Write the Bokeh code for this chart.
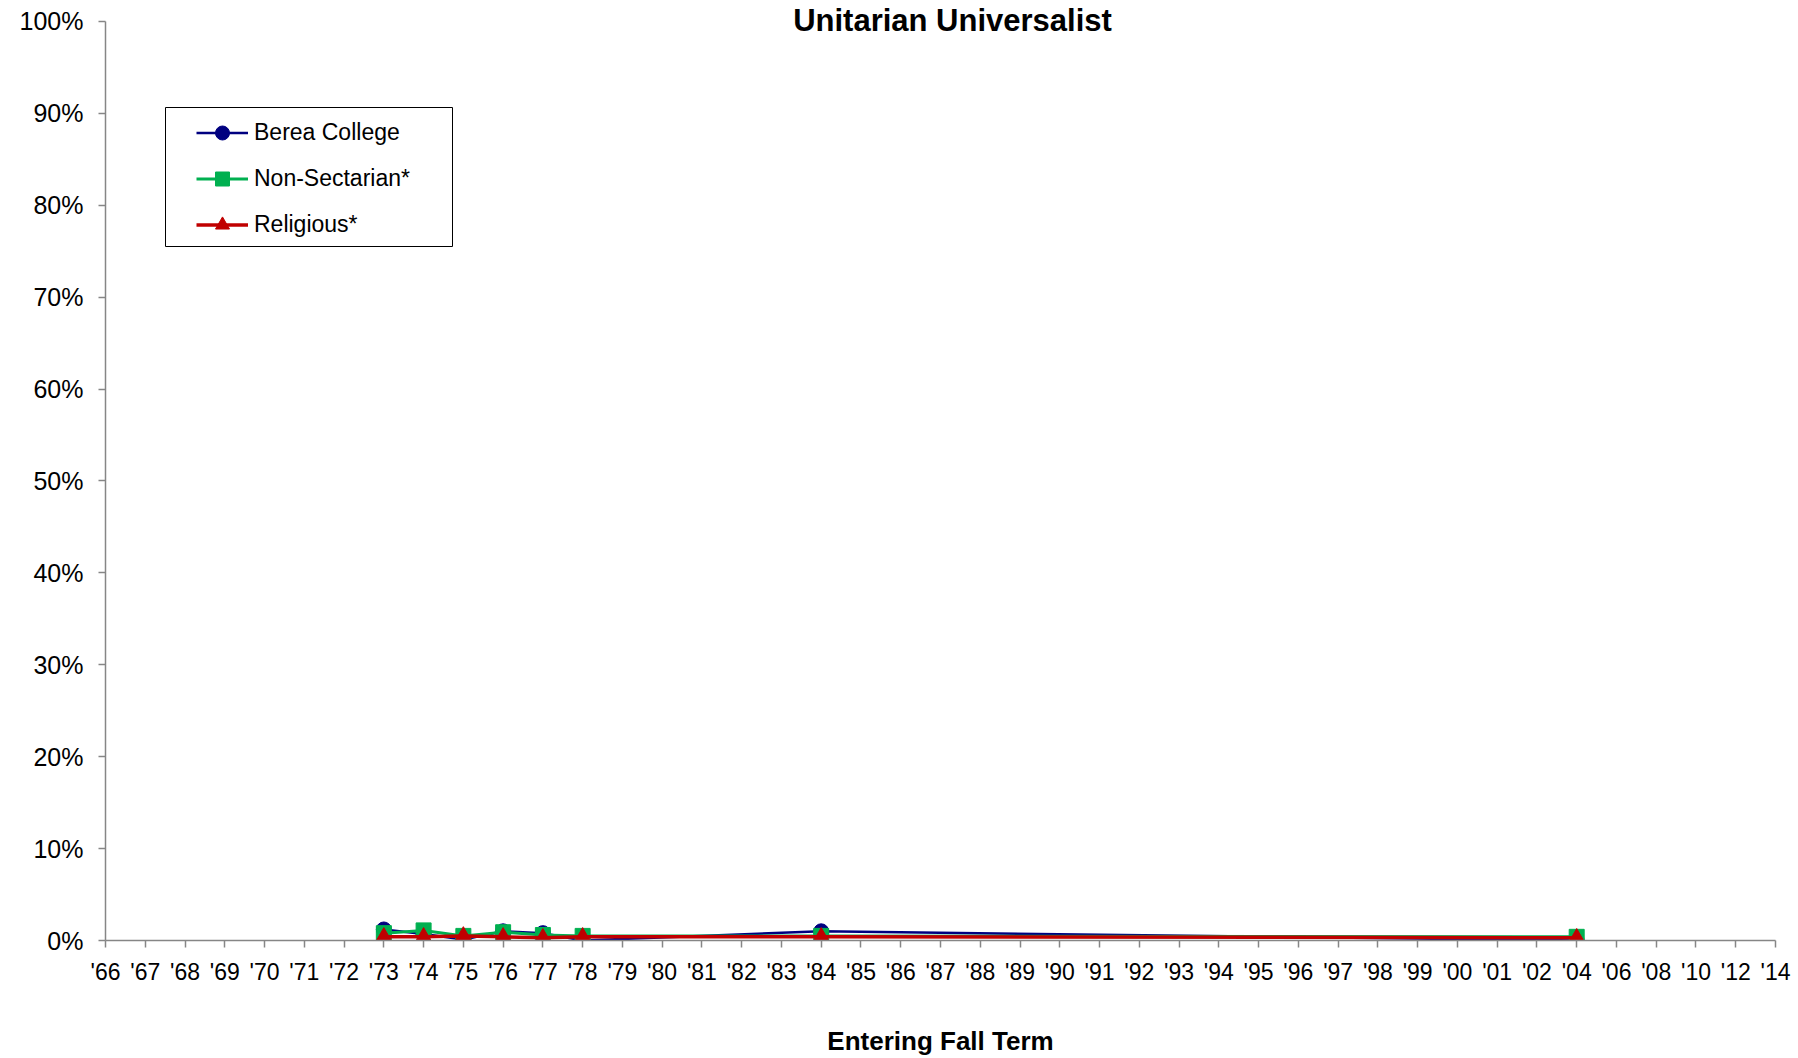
from bokeh.plotting import figure
from bokeh.models import (Range1d, FixedTicker, PrintfTickFormatter, Legend,
                          LegendItem, Label, BoxAnnotation)
from bokeh.embed import file_html
from bokeh.resources import INLINE

# ---- data ----
categories = ["'66", "'67", "'68", "'69", "'70", "'71", "'72", "'73", "'74", "'75",
              "'76", "'77", "'78", "'79", "'80", "'81", "'82", "'83", "'84", "'85",
              "'86", "'87", "'88", "'89", "'90", "'91", "'92", "'93", "'94", "'95",
              "'96", "'97", "'98", "'99", "'00", "'01", "'02", "'04", "'06", "'08",
              "'10", "'12", "'14"]
years = ["'73", "'74", "'75", "'76", "'77", "'78", "'84", "'04"]
berea = [1.2, 0.7, 0.1, 1.0, 0.8, 0.0, 1.0, 0.0]
non_sectarian = [0.8, 1.1, 0.5, 0.9, 0.6, 0.5, 0.5, 0.4]
religious = [0.4, 0.4, 0.5, 0.4, 0.3, 0.4, 0.4, 0.3]
y_ticks = [0, 10, 20, 30, 40, 50, 60, 70, 80, 90, 100]

FONT = "Liberation Sans"
x_idx = [categories.index(y) for y in years]

p = figure(width=1798, height=1058, output_backend="svg", toolbar_location=None,
           x_range=Range1d(0, len(categories) - 1), y_range=Range1d(0, 102.06),
           min_border_left=105, min_border_top=2, min_border_right=23,
           min_border_bottom=0)
p.outline_line_color = None
p.xgrid.visible = False
p.ygrid.visible = False
p.background_fill_color = "white"
p.border_fill_color = "white"

AX = "#868686"
xa = p.xaxis[0]
xa.ticker = FixedTicker(ticks=list(range(len(categories))))
xa.major_label_overrides = {i: c for i, c in enumerate(categories)}
xa.major_label_text_font = FONT
xa.major_label_text_font_size = "23px"
xa.major_label_text_color = "black"
xa.major_label_standoff = 11
xa.axis_line_color = AX
xa.axis_line_width = 1.5
xa.major_tick_line_color = AX
xa.major_tick_line_width = 1.5
xa.major_tick_out = 7
xa.major_tick_in = 0
xa.minor_tick_line_color = None
xa.axis_label = "Entering Fall Term"
xa.axis_label_text_font = FONT
xa.axis_label_text_font_style = "bold"
xa.axis_label_text_font_size = "26px"
xa.axis_label_text_color = "black"
xa.axis_label_standoff = 38

ya = p.yaxis[0]
ya.ticker = FixedTicker(ticks=y_ticks)
ya.formatter = PrintfTickFormatter(format="%d%%")
ya.bounds = (0, 100)
ya.major_label_text_font = FONT
ya.major_label_text_font_size = "25px"
ya.major_label_text_color = "black"
ya.major_label_standoff = 15
ya.axis_line_color = AX
ya.axis_line_width = 1.5
ya.major_tick_line_color = AX
ya.major_tick_line_width = 1.5
ya.major_tick_out = 7
ya.major_tick_in = 0
ya.minor_tick_line_color = None

NAVY = "#000080"
GREEN = "#00B050"
RED = "#C00000"

lb = p.line(x_idx, berea, line_color=NAVY, line_width=2.5)
sb = p.scatter(x_idx, berea, marker="circle", size=15, fill_color=NAVY, line_color=NAVY)
ln = p.line(x_idx, non_sectarian, line_color=GREEN, line_width=3)
sn = p.scatter(x_idx, non_sectarian, marker="square", size=15, fill_color=GREEN, line_color=GREEN)
lr = p.line(x_idx, religious, line_color=RED, line_width=3.5)
sr = p.scatter(x_idx, religious, marker="triangle", size=16, fill_color=RED, line_color=RED)

# legend frame
box = BoxAnnotation(left=60, right=347, top=833, bottom=694,
                    left_units="screen", right_units="screen",
                    top_units="screen", bottom_units="screen",
                    fill_color="white", fill_alpha=1,
                    line_color="black", line_width=1, line_alpha=1)
p.add_layout(box)

legend = Legend(items=[
    LegendItem(label="Berea College", renderers=[lb, sb]),
    LegendItem(label="Non-Sectarian*", renderers=[ln, sn]),
    LegendItem(label="Religious*", renderers=[lr, sr]),
], location=(91, 698), padding=13, spacing=11, margin=0,
    label_text_font=FONT, label_text_font_size="23px", label_text_color="black",
    glyph_width=52, glyph_height=35, label_height=35,
    label_standoff=6, border_line_color=None,
    background_fill_alpha=0)
p.add_layout(legend)

title = Label(x=847, y=920, x_units="screen", y_units="screen",
              text="Unitarian Universalist", text_font=FONT, text_font_style="bold",
              text_font_size="31px", text_align="center", text_baseline="middle",
              text_color="black")
p.add_layout(title)

open("out.html", "w").write(file_html(p, INLINE))
